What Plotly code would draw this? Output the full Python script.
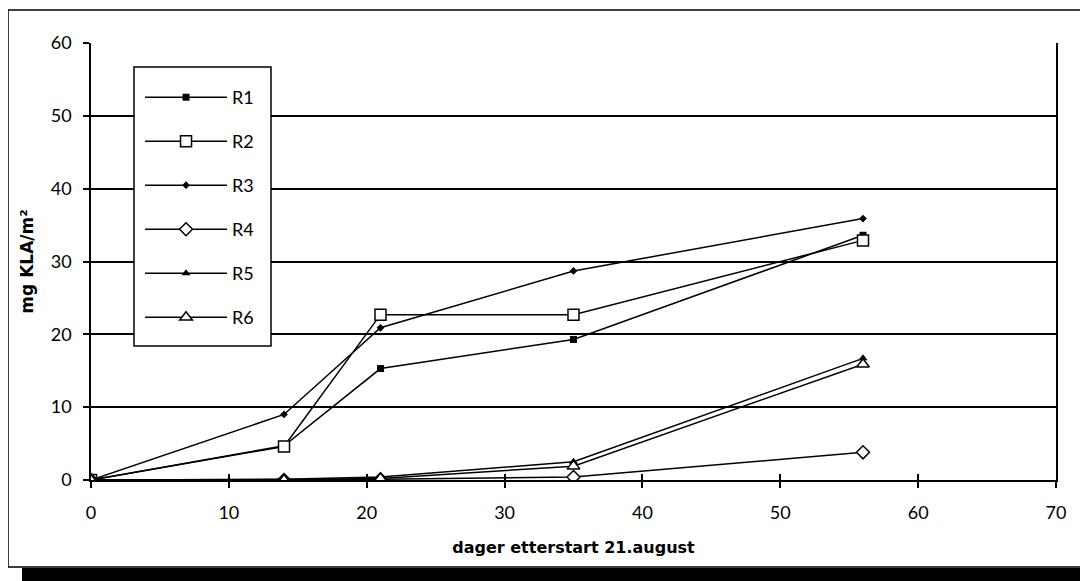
import plotly.graph_objects as go

days = [0, 14, 21, 35, 56]
series_names = ["R1", "R2", "R3", "R4", "R5", "R6"]
r1 = [0, 4.7, 15.3, 19.3, 33.6]
r2 = [0, 4.6, 22.7, 22.7, 32.9]
r3 = [0, 9.0, 20.9, 28.7, 35.9]
r4 = [0, 0.0, 0.1, 0.4, 3.8]
r5 = [0, 0.1, 0.4, 2.5, 16.7]
r6 = [0, 0.0, 0.2, 1.9, 15.9]
values = [r1, r2, r3, r4, r5, r6]

x_ticks = [0, 10, 20, 30, 40, 50, 60, 70]
y_ticks = [0, 10, 20, 30, 40, 50, 60]

styles = [
    dict(symbol="square", size=7, color="black", line=dict(color="black", width=0)),
    dict(symbol="square", size=11, color="white", line=dict(color="black", width=1.5)),
    dict(symbol="diamond", size=6, color="black", line=dict(color="black", width=0)),
    dict(symbol="diamond", size=10, color="white", line=dict(color="black", width=1.5)),
    dict(symbol="triangle-up", size=8, color="black", line=dict(color="black", width=0)),
    dict(symbol="triangle-up", size=11, color="white", line=dict(color="black", width=1.5)),
]

FONT = "Lato, 'Open Sans', sans-serif"
TITLE_FONT = "'DejaVu Sans', sans-serif"

fig = go.Figure()
for name, vals, st in zip(series_names, values, styles):
    fig.add_trace(go.Scatter(
        x=days, y=vals, name=name, mode="lines+markers",
        line=dict(color="black", width=1.5),
        marker=st, legendgroup=name,
    ))

# helper trace on overlay axis (only carries inward tick marks)
fig.add_trace(go.Scatter(x=[0, 70], y=[0, 0], xaxis="x2", mode="none",
                         showlegend=False, hoverinfo="skip"))

fig.update_layout(
    width=1080, height=573,
    margin=dict(l=83, r=32, t=35, b=101),
    paper_bgcolor="white", plot_bgcolor="white",
    font=dict(family=FONT, color="black", size=18),
    showlegend=True,
    legend=dict(
        x=0.0446, y=0.9176, xanchor="left", yanchor="top",
        bgcolor="rgba(0,0,0,0)", borderwidth=0,
        font=dict(size=18, family=FONT),
        itemwidth=82, tracegroupgap=17.6, traceorder="grouped",
        indentation=6,
    ),
    xaxis=dict(
        range=[0, 70], tickvals=x_ticks, ticktext=[str(v) for v in x_ticks],
        showgrid=False, zeroline=False,
        showline=True, linecolor="black", linewidth=1.5,
        ticks="outside", ticklen=6, tickcolor="black", tickwidth=1.5,
        tickfont=dict(size=18), ticklabelstandoff=10,
        title=dict(text="<b>dager etterstart 21.august</b>",
                   font=dict(size=16, family=TITLE_FONT), standoff=19),
    ),
    xaxis2=dict(
        overlaying="x", matches="x", range=[0, 70], tickvals=x_ticks,
        showticklabels=False, showgrid=False, zeroline=False,
        ticks="inside", ticklen=6, tickcolor="black", tickwidth=1.5,
        side="bottom", anchor="y",
    ),
    yaxis=dict(
        range=[0, 60], tickvals=y_ticks, ticktext=[str(v) for v in y_ticks],
        showgrid=True, gridcolor="black", gridwidth=1.5,
        zeroline=False,
        showline=True, linecolor="black", linewidth=1.5, mirror=True,
        ticks="outside", ticklen=6, tickcolor="black", tickwidth=1.5,
        tickfont=dict(size=18), ticklabelstandoff=8,
        title=dict(text="<b>mg KLA/m²</b>",
                   font=dict(size=17, family=TITLE_FONT), standoff=13),
    ),
    shapes=[
        # outer chart frame
        dict(type="rect", xref="paper", yref="paper",
             x0=-0.086, x1=1.031, y0=-0.199, y1=1.0755,
             line=dict(color="black", width=1.5), layer="below"),
        # bottom shadow bar
        dict(type="rect", xref="paper", yref="paper",
             x0=-0.0715, x1=1.04, y0=-0.2014, y1=-0.24,
             line=dict(width=0), fillcolor="black", layer="above"),
        # right shadow edge
        dict(type="rect", xref="paper", yref="paper",
             x0=1.028, x1=1.034, y0=-0.2014, y1=1.07,
             line=dict(width=0), fillcolor="black", layer="above"),
        # legend box
        dict(type="rect", xref="paper", yref="paper",
             x0=0.04456, x1=0.18653, y0=0.3066, y1=0.9451,
             line=dict(color="black", width=1.5), fillcolor="white", layer="above"),
    ],
)

fig.write_html("out.html")
